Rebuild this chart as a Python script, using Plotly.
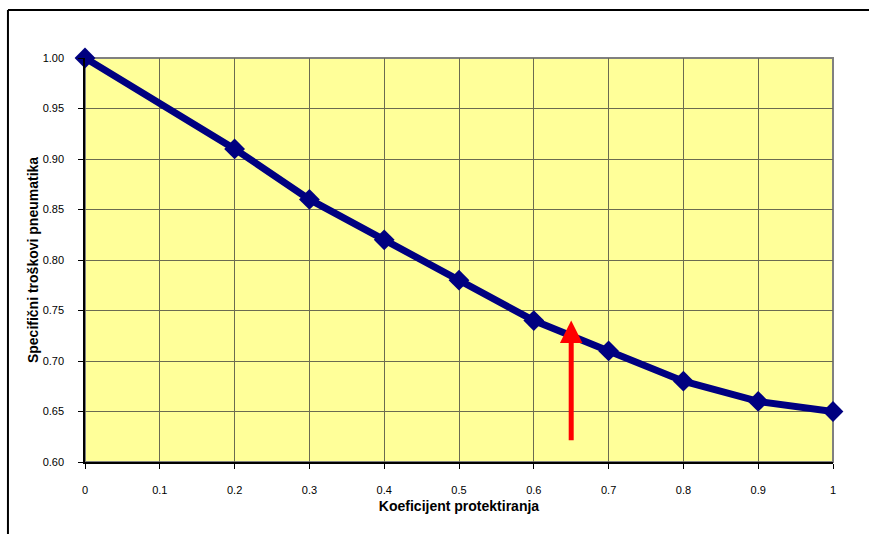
import plotly.graph_objects as go

# Koeficijent protektiranja vs. specifični troškovi pneumatika
koef = [0, 0.2, 0.3, 0.4, 0.5, 0.6, 0.7, 0.8, 0.9, 1.0]
troskovi = [1.00, 0.91, 0.86, 0.82, 0.78, 0.74, 0.71, 0.68, 0.66, 0.65]

x_ticks = [0, 0.1, 0.2, 0.3, 0.4, 0.5, 0.6, 0.7, 0.8, 0.9, 1.0]
x_labels = ["0", "0.1", "0.2", "0.3", "0.4", "0.5", "0.6", "0.7", "0.8", "0.9", "1"]
y_ticks = [0.60, 0.65, 0.70, 0.75, 0.80, 0.85, 0.90, 0.95, 1.00]

# marker arrow: from (arrow_x, arrow_y0) up to (arrow_x, arrow_y1)
arrow_x = 0.65
arrow_y0 = 0.62
arrow_y1 = 0.74

font_family = "Liberation Sans, Arial, sans-serif"

fig = go.Figure()
fig.add_trace(go.Scatter(
    x=koef, y=troskovi, mode="lines+markers",
    line=dict(color="#000080", width=7),
    marker=dict(symbol="diamond", size=16, color="#000080"),
    cliponaxis=False, showlegend=False,
))

fig.add_annotation(
    x=arrow_x, y=arrow_y1, ax=arrow_x, ay=arrow_y0,
    xref="x", yref="y", axref="x", ayref="y",
    showarrow=True, arrowhead=2, arrowsize=0.9, arrowwidth=5,
    arrowcolor="#ff0000", standoff=0, text="",
)

# plot area outline (gray on top/right)
fig.add_shape(type="rect", xref="paper", yref="paper", x0=0, y0=0, x1=1, y1=1,
              line=dict(color="#808080", width=2), layer="below")
# outer chart frame: top and left edges (the rest runs off the page)
fig.add_shape(type="line", xref="paper", yref="paper", x0=-0.103, y0=1.119, x1=1.05, y1=1.119,
              line=dict(color="#000000", width=2))
fig.add_shape(type="line", xref="paper", yref="paper", x0=-0.103, y0=1.119, x1=-0.103, y1=-0.3,
              line=dict(color="#000000", width=2))

fig.update_layout(
    width=869, height=534,
    margin=dict(l=85, r=36, t=58, b=72),
    paper_bgcolor="white", plot_bgcolor="#FFFF99",
    font=dict(family=font_family, size=11, color="black"),
)
fig.update_xaxes(
    range=[0, 1], tickvals=x_ticks, ticktext=x_labels,
    showgrid=True, gridcolor="#6b6b50", gridwidth=1,
    showline=True, linecolor="black", linewidth=1.5,
    ticks="outside", ticklen=5, tickcolor="black", ticklabelstandoff=12,
    zeroline=False,
    title=dict(text="<b>Koeficijent protektiranja</b>", font=dict(size=14), standoff=6),
)
fig.update_yaxes(
    range=[0.6, 1.0], tickvals=y_ticks, tickformat=".2f",
    showgrid=True, gridcolor="#6b6b50", gridwidth=1,
    showline=True, linecolor="black", linewidth=1.5,
    ticks="outside", ticklen=5, tickcolor="black", ticklabelstandoff=12,
    zeroline=False,
    title=dict(text="<b>Specifični troškovi pneumatika</b>", font=dict(size=14), standoff=1),
)

fig.write_html("out.html")
